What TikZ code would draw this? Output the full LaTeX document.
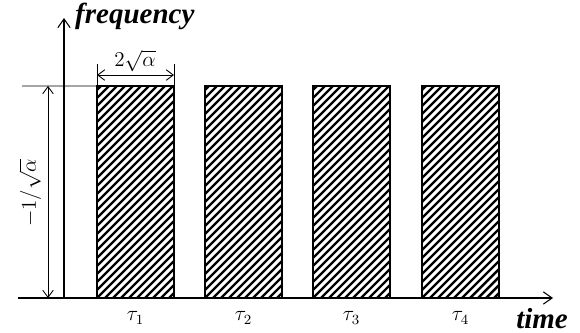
\documentclass[tikz,border=0pt]{standalone}
\usepackage{fontspec}
\setmainfont{Liberation Serif}
\usetikzlibrary{arrows.meta}

\begin{document}
\begin{tikzpicture}[
  x=0.02cm, y=-0.02cm,
  axis/.style={line width=0.6pt, -{Straight Barb[length=5pt,width=7pt]}},
  dim/.style={line width=0.5pt, {Straight Barb[length=4pt,width=6pt]}-{Straight Barb[length=4pt,width=6pt]}},
  bar/.style={draw, line width=0.9pt, minimum width=1.54cm, minimum height=4.24cm, anchor=south west,
    inner sep=0pt, outer sep=0pt},
  hatch/.style={line width=1.4pt},
  tlabel/.style={font=\large},
  axlabel/.style={font=\fontsize{16.5}{18}\selectfont\bfseries\itshape, inner sep=0.5pt}
]
\useasboundingbox (0,0) rectangle (580,333);

% pulses
\foreach \i/\x in {1/97,2/205,3/313,4/422} {
  \begin{scope}
    \clip (\x,298) rectangle ++(77,-212);
    \foreach \d in {-216,-208,...,80}
      \draw[hatch] (\x+\d,298) -- ++(212,-212);
  \end{scope}
  \node[bar] (r\i) at (\x,298) {};
  \node[tlabel] (t\i) at ([yshift=-0.4cm]r\i.south) {$\tau_{\i}$};
}

% axes
\coordinate (xstart) at (18,298);
\coordinate (xend) at (553,298);
\coordinate (ybot) at (64,298);
\coordinate (ytop) at (64,18);
\draw[axis] (xstart) -- (xend);
\draw[axis] (ybot) -- (ytop);
\node[axlabel, anchor=west] (freq) at (74,16) {frequency};
\node[axlabel] (time) at (542,319) {time};

% height
\coordinate (hl) at (22,86);
\draw[line width=0.5pt] (hl) -- (r1.north west);
\coordinate (htop) at (48,86);
\coordinate (hbot) at (48,298);
\draw[dim] (htop) -- (hbot);
\node[tlabel, rotate=90] (hlab) at (30,193) {$-1/\sqrt{\alpha}$};

% width
\coordinate (wl) at ([yshift=0.44cm]r1.north west);
\coordinate (wr) at ([yshift=0.44cm]r1.north east);
\draw[line width=0.5pt] (r1.north west) -- (wl);
\draw[line width=0.5pt] (r1.north east) -- (wr);
\draw[dim] ([yshift=-0.22cm]wl) -- ([yshift=-0.22cm]wr);
\node[tlabel] (wlab) at (135,61) {$2\sqrt{\alpha}$};
\end{tikzpicture}
\end{document}
